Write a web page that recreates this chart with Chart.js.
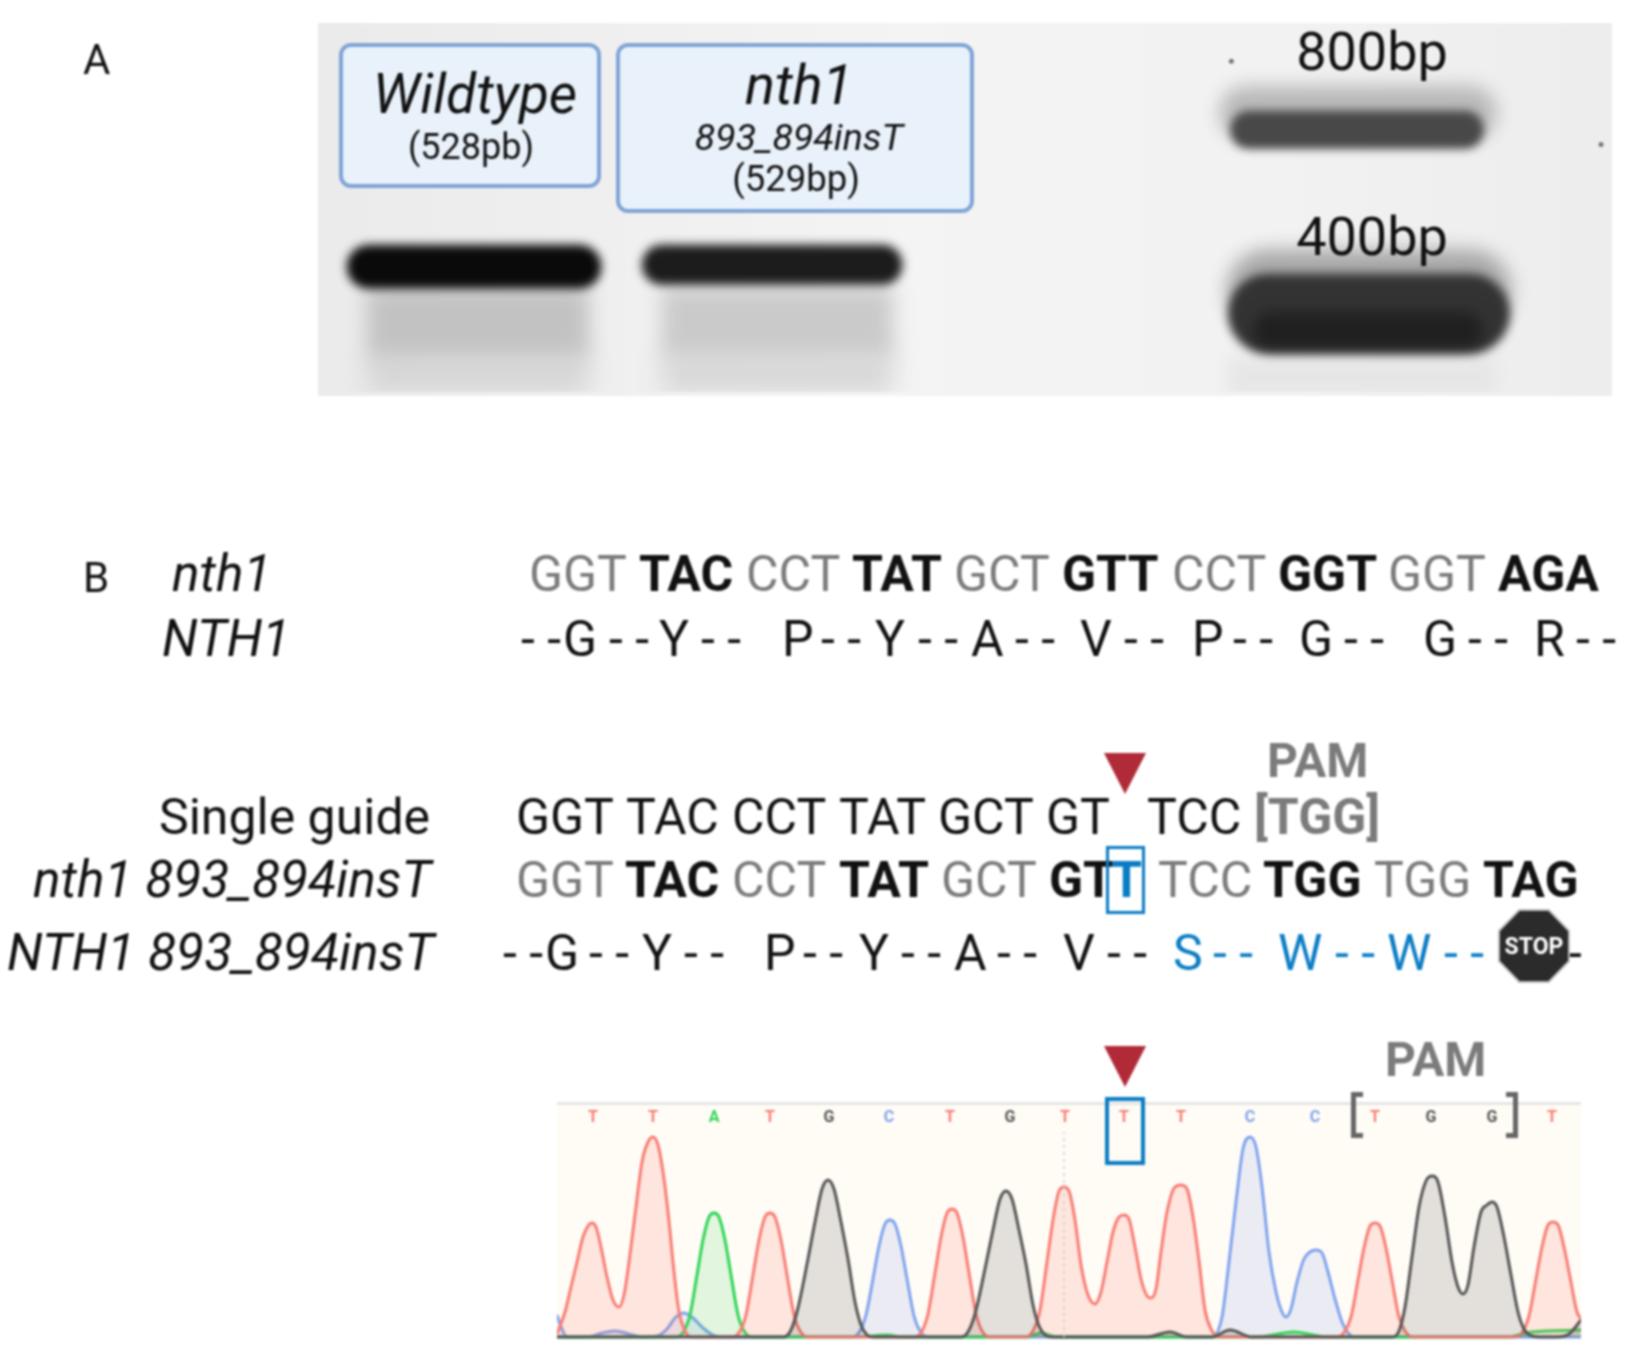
<!DOCTYPE html>
<html>
<head>
<meta charset="utf-8">
<title>nth1 893_894insT</title>
<script src="https://cdn.jsdelivr.net/npm/chart.js@4"></script>
<style>
html, body { margin: 0; padding: 0; background: #fff; }
#figure { position: relative; width: 1633px; height: 1358px; overflow: hidden; filter: blur(0.8px); font-family: Roboto, sans-serif; color: #111; }
#figure canvas { position: absolute; display: block; }
.t { position: absolute; white-space: pre; line-height: 1; }
.c { transform: translateX(-50%); }
.box { position: absolute; box-sizing: border-box; border: 4.5px solid #7fa4d6; border-radius: 12px; background: #e9f2fb; }
.hit { position: absolute; box-sizing: border-box; border: 3.5px solid #0a7cc4; }
.tri { position: absolute; width: 42px; height: 41px; background: #b02a37; clip-path: polygon(0 0, 100% 0, 50% 100%); }
.brk { position: absolute; box-sizing: border-box; width: 12px; height: 46px; border: 5px solid #666; }
.stop { position: absolute; clip-path: polygon(29% 0, 71% 0, 100% 29%, 100% 71%, 71% 100%, 29% 100%, 0 71%, 0 29%); }
</style>
</head>
<body>
<div id="figure">
    <canvas id="gelChart" width="1294" height="373" style="left:318px;top:23px"></canvas>
    <canvas id="traceChart" width="1024" height="237" style="left:557px;top:1102px"></canvas>
    <div id="labels"></div>
</div>
<script>
// ── Gel data (lane position and migration, gel pixels) ────────────────────────

const bandNames = ['wtSmearLow', 'wtSmear', 'mutSmearLow', 'mutSmear', 'ladderSmear', 'wtBand', 'mutBand', 'halo800', 'core800', 'halo400', 'core400', 'low400'];
const bandStart = [45, 45, 342, 342, 912, 47, 342, 930, 933, 952, 952, 955];
const bandEnd = [269, 269, 575, 575, 1182, 259, 564, 1155, 1150, 1155, 1155, 1150];
const bandMigration = [355, 302, 355, 302, 358, 245, 243, 88, 105, 270, 293, 310];
const speckX = [915, 1287];
const speckY = [35, 120];

// ── Chromatogram data ─────────────────────────────────────────────────────────

const baseLetters = ['T', 'T', 'A', 'T', 'G', 'C', 'T', 'G', 'T', 'T', 'T', 'C', 'C', 'T', 'G', 'G', 'T'];
const basePositions = [36, 96, 157, 213, 272, 332, 393, 453, 508, 567, 624, 693, 758, 818, 874, 935, 995];

const traceTX = [0, 8, 14, 20, 26, 31, 35, 39, 44, 50, 56, 62, 67, 72, 78, 85, 91, 96, 101, 106, 111, 117, 122, 128, 134, 175, 183, 189, 196, 202, 208, 213, 218, 224, 230, 237, 243, 251, 357, 365, 371, 378, 384, 390, 395, 400, 406, 412, 419, 425, 433, 469, 477, 483, 490, 496, 502, 507, 512, 518, 524, 531, 538, 544, 550, 556, 562, 567, 572, 578, 584, 590, 594, 599, 604, 610, 618, 624, 630, 636, 642, 648, 654, 662, 780, 788, 794, 801, 807, 813, 818, 823, 829, 835, 842, 848, 856, 958, 966, 972, 979, 985, 991, 996, 1001, 1007, 1013, 1020, 1024];
const traceTY = [3, 25, 50, 75, 100, 111, 114, 110, 90, 60, 37, 30, 42, 75, 122, 175, 195, 200, 192, 165, 125, 65, 25, 6, 0, 0, 6, 22, 62, 97, 120, 124, 120, 97, 62, 22, 6, 0, 0, 6, 23, 64, 100, 124, 128, 124, 100, 64, 23, 6, 0, 0, 8, 27, 75, 117, 146, 150, 146, 117, 72, 42, 33, 45, 75, 105, 120, 122, 118, 90, 58, 41, 39, 48, 85, 125, 150, 152, 148, 120, 76, 27, 8, 0, 0, 6, 20, 57, 89, 111, 114, 111, 89, 57, 20, 6, 0, 0, 6, 21, 58, 90, 112, 115, 112, 90, 60, 25, 18];

const traceAX = [0, 119, 127, 133, 140, 146, 152, 157, 162, 168, 174, 181, 187, 195, 300, 330, 345, 470, 484, 500, 700, 737, 770, 950, 975, 1024];
const traceAY = [0, 0, 6, 22, 62, 97, 120, 124, 120, 97, 62, 22, 6, 0, 0, 2, 0, 0, 4, 0, 0, 5, 0, 0, 5, 7];

const traceGX = [0, 226, 233, 240, 251, 258, 265, 271, 277, 284, 291, 298, 304, 310, 316, 404, 411, 418, 429, 436, 443, 449, 455, 462, 469, 476, 482, 488, 494, 590, 613, 630, 655, 673, 695, 835, 842, 848, 855, 862, 869, 875, 881, 888, 895, 901, 906, 911, 917, 924, 930, 935, 940, 947, 954, 961, 967, 975, 985, 1000, 1012, 1024];
const traceGY = [0, 0, 5, 25, 78, 115, 148, 157, 148, 115, 78, 35, 12, 2, 0, 0, 5, 23, 73, 107, 138, 146, 138, 107, 73, 32, 11, 2, 0, 0, 5, 0, 0, 7, 0, 0, 6, 30, 80, 130, 156, 161, 155, 120, 75, 50, 43, 52, 90, 125, 132, 135, 130, 100, 62, 25, 8, 1, 0, 0, 3, 17];

const traceCX = [0, 5, 10, 30, 45, 58, 72, 85, 100, 110, 118, 127, 136, 146, 156, 166, 295, 303, 309, 316, 322, 328, 333, 338, 344, 350, 357, 363, 371, 655, 665, 672, 679, 686, 693, 699, 705, 712, 719, 725, 729, 734, 740, 747, 753, 759, 765, 771, 778, 785, 791, 798, 1024];
const traceCY = [22, 8, 0, 0, 4, 6, 3, 0, 1, 8, 19, 24, 19, 9, 2, 0, 0, 6, 22, 58, 91, 113, 117, 113, 91, 58, 21, 6, 0, 0, 20, 75, 135, 188, 200, 190, 150, 85, 45, 25, 20, 28, 55, 78, 85, 87, 84, 65, 38, 15, 4, 0, 0];

const markerX = [507, 507];
const markerY = [0, 205];

// ── Sequence rows ─────────────────────────────────────────────────────────────

const wtCodons = ['GGT', 'TAC', 'CCT', 'TAT', 'GCT', 'GTT', 'CCT', 'GGT', 'GGT', 'AGA'];
const wtCodonX = [531, 641, 748, 854, 956, 1064, 1174, 1280, 1390, 1500];

const wtProtein = ['- -', 'G', '- -', 'Y', '- -', 'P', '- -', 'Y', '- -', 'A', '- -', 'V', '- -', 'P', '- -', 'G', '- -', 'G', '- -', 'R', '- -'];
const wtProteinX = [523, 565, 611, 661, 703, 784, 823, 877, 920, 973, 1017, 1082, 1126, 1194, 1235, 1301, 1346, 1425, 1470, 1536, 1578];

const guideCodons = ['GGT', 'TAC', 'CCT', 'TAT', 'GCT', 'GT', 'TCC'];
const guideCodonX = [518, 628, 734, 841, 940, 1048, 1149];

const mutCodons = ['GGT', 'TAC', 'CCT', 'TAT', 'GCT', 'GT', 'T', 'TCC', 'TGG', 'TGG', 'TAG'];
const mutCodonX = [518, 627, 734, 841, 943, 1051, 1113, 1160, 1265, 1376, 1485];

const mutProtein = ['- -', 'G', '- -', 'Y', '- -', 'P', '- -', 'Y', '- -', 'A', '- -', 'V', '- -', 'S', '- -', 'W', '- -', 'W', '- -', '-'];
const mutProteinX = [505, 547, 591, 644, 686, 766, 805, 861, 903, 956, 999, 1065, 1109, 1175, 1215, 1280, 1337, 1389, 1446, 1570];

// ── Helpers ───────────────────────────────────────────────────────────────────

const GRAY_TEXT = '#7b7b7b';
const BLUE_TEXT = '#0a7cc4';
const labels = document.getElementById('labels');

// places one text with its baseline at y (Roboto baseline sits .841em down a line-height:1 box)
function addText(text, x, y, size, opts = {}) {
    const el = document.createElement('span');
    el.className = opts.center ? 't c' : 't';
    el.textContent = text;
    el.style.left = `${x}px`;
    el.style.top = `${y - size * 0.841}px`;
    el.style.fontSize = `${size}px`;
    if (opts.italic) el.style.fontStyle = 'italic';
    if (opts.bold) el.style.fontWeight = '700';
    if (opts.color) el.style.color = opts.color;
    labels.appendChild(el);
    return el;
}

function addShape(className, x, y, w, h, extra = {}) {
    const el = document.createElement('div');
    el.className = className;
    el.style.left = `${x}px`;
    el.style.top = `${y}px`;
    if (w) el.style.width = `${w}px`;
    if (h) el.style.height = `${h}px`;
    Object.assign(el.style, extra);
    labels.appendChild(el);
}

function addRow(tokens, xs, y, styleFor) {
    tokens.forEach((token, i) => addText(token, xs[i] - 2, y, 50, styleFor(token, i)));
}

function toPoints(xs, ys) {
    return xs.map((x, i) => ({ x, y: ys[i] }));
}

// ── Gel chart ─────────────────────────────────────────────────────────────────

const bandColors = ['#d6d6d6', '#c2c2c2', '#d8d8d8', '#cacaca', '#e6e6e6', '#0a0a0a', '#1c1c1c', '#b8b8b8', '#484848', '#a8a8a8', '#333333', '#202020'];
const bandWidths = [40, 70, 40, 70, 40, 44, 40, 54, 38, 84, 80, 36];
const bandCaps = ['butt', 'butt', 'butt', 'butt', 'butt', 'round', 'round', 'round', 'round', 'round', 'round', 'round'];
const bandBlur = [12, 10, 12, 10, 8, 5, 5, 9, 4, 9, 5, 7];

const gelPlugin = {
    id: 'gelPlugin',
    beforeDraw(chart) {
        const { ctx, width, height } = chart;
        const gradient = ctx.createLinearGradient(0, 0, width, 0);
        gradient.addColorStop(0, '#ebebeb');
        gradient.addColorStop(0.45, '#f4f4f4');
        gradient.addColorStop(0.75, '#f2f2f2');
        gradient.addColorStop(1, '#ededed');
        ctx.fillStyle = gradient;
        ctx.fillRect(0, 0, width, height);
    },
    beforeDatasetDraw(chart, args) {
        chart.ctx.save();
        chart.ctx.filter = `blur(${bandBlur[args.index] || 0}px)`;
    },
    afterDatasetDraw(chart) {
        chart.ctx.restore();
    },
};

new Chart(document.getElementById('gelChart'), {
    type: 'line',
    data: {
        datasets: [
            ...bandNames.map((name, i) => ({
                label: name,
                data: [{ x: bandStart[i], y: bandMigration[i] }, { x: bandEnd[i], y: bandMigration[i] }],
                borderColor: bandColors[i],
                borderWidth: bandWidths[i],
                borderCapStyle: bandCaps[i],
                pointRadius: 0,
                clip: 0,
                order: bandNames.length - i + 1,
            })),
            {
                label: 'specks',
                data: toPoints(speckX, speckY),
                showLine: false,
                pointRadius: 2.5,
                pointBackgroundColor: '#777',
                pointBorderWidth: 0,
                order: 0,
            },
        ],
    },
    options: {
        responsive: false,
        animation: false,
        devicePixelRatio: 1,
        layout: { padding: 0 },
        plugins: { legend: { display: false }, tooltip: { enabled: false } },
        scales: {
            x: { type: 'linear', display: false, min: 0, max: 1294 },
            y: { type: 'linear', display: false, min: 0, max: 373, reverse: true },
        },
    },
    plugins: [gelPlugin],
});

// ── Chromatogram chart ────────────────────────────────────────────────────────

const baseColors = { T: '#f87c74', A: '#2fd455', G: '#555555', C: '#7fa2ee' };

function traceDataset(label, xs, ys, letter, fill, order) {
    return {
        label,
        data: toPoints(xs, ys),
        borderColor: baseColors[letter],
        backgroundColor: fill,
        borderWidth: 3,
        fill: 'origin',
        cubicInterpolationMode: 'monotone',
        pointRadius: 0,
        order,
    };
}

new Chart(document.getElementById('traceChart'), {
    type: 'line',
    data: {
        datasets: [
            {
                label: 'marker',
                data: toPoints(markerX, markerY),
                borderColor: '#cfcfcf',
                borderWidth: 1.5,
                borderDash: [3, 4],
                pointRadius: 0,
                order: 0,
            },
            traceDataset('G', traceGX, traceGY, 'G', 'rgba(70, 70, 70, 0.15)', 1),
            traceDataset('T', traceTX, traceTY, 'T', 'rgba(250, 120, 100, 0.17)', 2),
            traceDataset('A', traceAX, traceAY, 'A', 'rgba(60, 210, 90, 0.15)', 3),
            traceDataset('C', traceCX, traceCY, 'C', 'rgba(110, 140, 230, 0.14)', 4),
        ],
    },
    options: {
        responsive: false,
        animation: false,
        devicePixelRatio: 1,
        layout: { padding: 0 },
        plugins: { legend: { display: false }, tooltip: { enabled: false } },
        scales: {
            x: {
                type: 'linear',
                position: 'top',
                min: 0,
                max: 1024,
                grid: { display: false, drawTicks: false },
                border: { display: false },
                afterBuildTicks(scale) {
                    scale.ticks = basePositions.map((value) => ({ value }));
                },
                afterFit(scale) {
                    scale.height = 26;
                },
                ticks: {
                    autoSkip: false,
                    maxRotation: 0,
                    padding: 0,
                    font: { family: 'Roboto', weight: '700', size: 16 },
                    color: (ctx) => baseColors[baseLetters[ctx.index]],
                    callback: (value, index) => baseLetters[index],
                },
            },
            y: { type: 'linear', display: false, min: -2, max: 209 },
        },
    },
    plugins: [{
        id: 'traceBackground',
        beforeDraw(chart) {
            const { ctx, width, height } = chart;
            ctx.fillStyle = '#fffcf6';
            ctx.fillRect(0, 0, width, height);
            ctx.fillStyle = '#e6e6e6';
            ctx.fillRect(0, 0, width, 3);
        },
    }],
});

// ── Panel A labels ────────────────────────────────────────────────────────────

addText('A', 83, 74, 42);
addShape('box', 339, 43, 262, 145);
addShape('box', 616, 43, 358, 170);
addText('Wildtype', 475, 113, 55, { italic: true, center: true });
addText('(528pb)', 471, 159, 36, { center: true });
addText('nth1', 799, 104, 56, { italic: true, center: true });
addText('893_894insT', 799, 151, 37.5, { italic: true, center: true });
addText('(529bp)', 796, 192, 36.5, { center: true });
addText('800bp', 1372, 70, 54, { center: true });
addText('400bp', 1372, 255, 54, { center: true });

// ── Panel B sequence rows ─────────────────────────────────────────────────────

addText('B', 83, 592, 42);
addText('nth1', 172, 591, 51.5, { italic: true });
addText('NTH1', 162, 656, 51.5, { italic: true });
addRow(wtCodons, wtCodonX, 591, (_, i) => (i % 2 ? { bold: true } : { color: GRAY_TEXT }));
addRow(wtProtein, wtProteinX, 656, () => ({}));

addText('PAM', 1267, 777, 48, { bold: true, color: GRAY_TEXT });
addShape('tri', 1104, 753);
addText('Single guide', 159, 834, 50);
addRow(guideCodons, guideCodonX, 834, () => ({}));
addText('[TGG]', 1254, 834, 50, { bold: true, color: GRAY_TEXT });

addText('nth1 893_894insT', 33, 897, 51.5, { italic: true });
addRow(mutCodons, mutCodonX, 897, (token, i) => {
    if (i === 6) return { bold: true, color: BLUE_TEXT };
    if (i === 5) return { bold: true };
    if (i > 6) return i % 2 ? { color: GRAY_TEXT } : { bold: true };
    return i % 2 ? { bold: true } : { color: GRAY_TEXT };
});
addShape('hit', 1106, 846, 39, 68);

addText('NTH1 893_894insT', 7, 970, 51.5, { italic: true });
addRow(mutProtein, mutProteinX, 970, (token, i) => (i >= 13 && i < 19 ? { color: BLUE_TEXT } : {}));
addShape('stop', 1498, 909, 72, 74, { background: '#bdbdbd' });
addShape('stop', 1500, 911, 68, 70, { background: '#2b2b2b' });
addText('STOP', 1534, 954, 23, { bold: true, center: true, color: '#fff' });

// ── Chromatogram annotations ──────────────────────────────────────────────────

addShape('tri', 1104, 1046);
addText('PAM', 1385, 1076, 48, { bold: true, color: GRAY_TEXT });
addShape('hit', 1105, 1097, 40, 68, { borderWidth: '4px' });
addShape('brk', 1351, 1092, 0, 0, { borderRight: 'none' });
addShape('brk', 1506, 1092, 0, 0, { borderLeft: 'none' });
</script>
</body>
</html>
